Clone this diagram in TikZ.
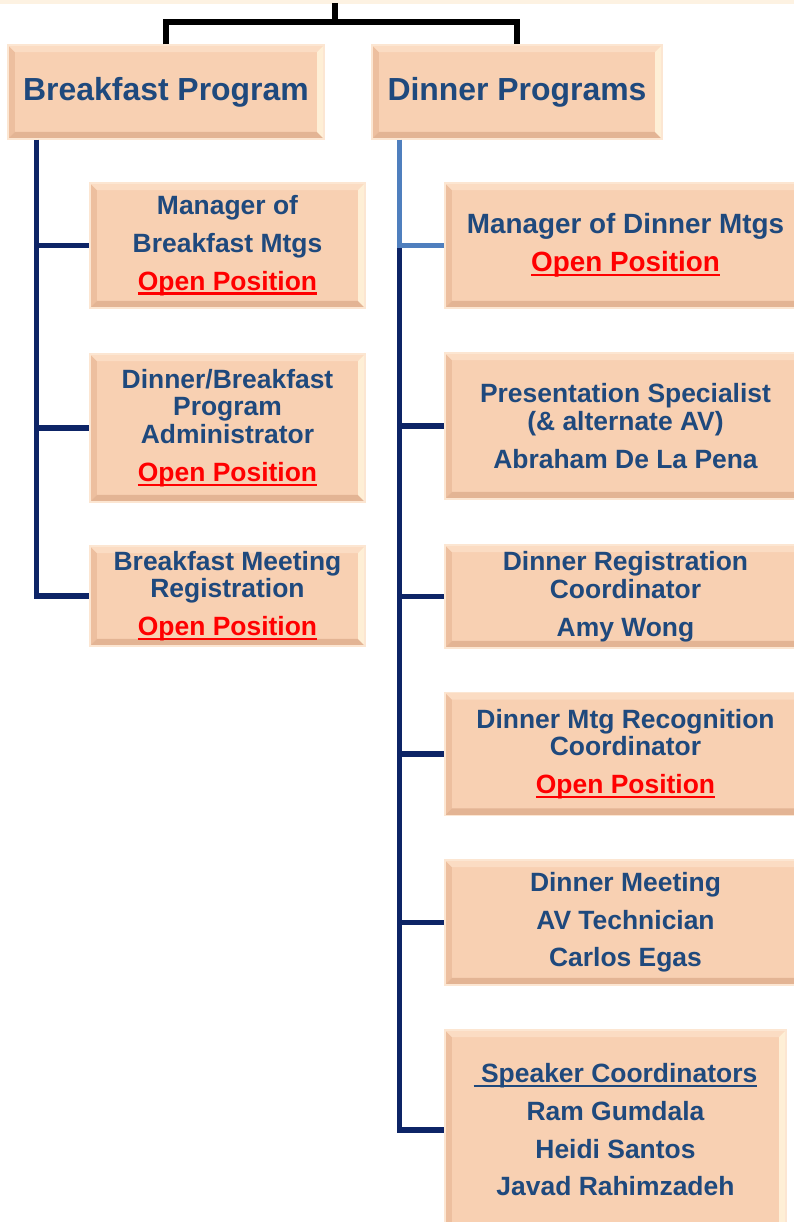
\documentclass[tikz,border=0pt]{standalone}
\usepackage{fontspec}
\setmainfont{Liberation Sans}
\usepackage{tikz}
\usetikzlibrary{calc,positioning}

\definecolor{boxfill}{HTML}{F8D0B2}
\definecolor{boxrim}{HTML}{FCE6D2}
\definecolor{bevtop}{HTML}{FBDCC3}
\definecolor{bevright}{HTML}{FEEFD6}
\definecolor{bevleft}{HTML}{EDBF9F}
\definecolor{bevbottom}{HTML}{E3B494}
\definecolor{textnavy}{HTML}{1F497D}
\definecolor{linenavy}{HTML}{0D2466}
\definecolor{lineblue}{HTML}{4F7FBE}
\definecolor{openred}{HTML}{FF0000}
\definecolor{stripcream}{HTML}{FDF2E2}

\newsavebox{\ulinebox}
\newcommand{\flatuline}[1]{\sbox{\ulinebox}{#1}\usebox{\ulinebox}\llap{\smash{\rule[-3.2pt]{\wd\ulinebox}{1.6pt}}}}
\newcommand{\openpos}{\textcolor{openred}{\flatuline{Open Position}}}

\tikzset{
	bevelbox/.style={draw=boxrim, line width=0.8pt, fill=boxfill, inner sep=0pt, align=center,
		text=textnavy, font=\bfseries\fontsize{18.8}{19.8}\selectfont,
		path picture={
			\fill[bevleft] (path picture bounding box.south west) -- (path picture bounding box.north west)
				-- ++(5pt,-5pt) -- ($(path picture bounding box.south west)+(5pt,5pt)$) -- cycle;
			\fill[bevbottom] (path picture bounding box.south west) -- (path picture bounding box.south east)
				-- ++(-5pt,5pt) -- ($(path picture bounding box.south west)+(5pt,5pt)$) -- cycle;
			\fill[bevtop] (path picture bounding box.north west) -- (path picture bounding box.north east)
				-- ++(-5pt,-5pt) -- ($(path picture bounding box.north west)+(5pt,-5pt)$) -- cycle;
			\fill[bevright] (path picture bounding box.north east) -- (path picture bounding box.south east)
				-- ++(-5pt,5pt) -- ($(path picture bounding box.north east)+(-5pt,-5pt)$) -- cycle;
		}},
	titlebox/.style={bevelbox, font=\bfseries\fontsize{22.7}{26}\selectfont},
	navyline/.style={draw=linenavy, line width=3.7pt},
	blueline/.style={draw=lineblue, line width=3pt},
	topline/.style={draw=black, line width=3.7pt}
}

\begin{document}
\begin{tikzpicture}[x=0.025cm, y=-0.025cm]
			%%%%% START %%%%%
			\useasboundingbox (0, 0) rectangle (794, 1222);
			
			\fill[stripcream] (0, 0) rectangle (794, 4);
			
			\node[titlebox, minimum width=7.9cm, minimum height=2.35cm] (bfast) at (166, 92) {Breakfast Program};
			\node[titlebox, minimum width=7.25cm, minimum height=2.35cm] (dinner) at (517, 92) {Dinner Programs};
			
			\coordinate (top) at (335, 3);
			\coordinate (split) at (335, 22);
			\draw[topline] (top) -- (split);
			\draw[topline] (bfast.north) |- (split) -| (dinner.north);
			
			% breakfast side
			\node[bevelbox, minimum width=6.875cm, minimum height=3.125cm] (bmgr) at (227.5, 245.5)
				{Manager of\\[7pt]Breakfast Mtgs\\[7pt]\openpos};
			\node[bevelbox, minimum width=6.875cm, minimum height=3.7cm] (badmin) at (227.5, 428)
				{Dinner/Breakfast\\Program\\Administrator\\[7pt]\openpos};
			\node[bevelbox, minimum width=6.875cm, minimum height=2.5cm] (breg) at (227.5, 596)
				{Breakfast Meeting\\Registration\\[7pt]\openpos};
			
			\coordinate (btrunk) at ([xshift=0.725cm]bfast.south west);
			\draw[navyline] (btrunk) |- (breg.west);
			\draw[navyline] (btrunk |- bmgr.west) -- (bmgr.west);
			\draw[navyline] (btrunk |- badmin.west) -- (badmin.west);
			
			% dinner side
			\node[bevelbox, minimum width=9.025cm, minimum height=3.125cm, font=\bfseries\fontsize{19.8}{19.8}\selectfont] (dmgr) at (625.5, 245.5)
				{Manager of Dinner Mtgs\\[7pt]\openpos};
			\node[bevelbox, minimum width=9.025cm, minimum height=3.65cm] (dpres) at (625.5, 426)
				{Presentation Specialist\\(\& alternate AV)\\[7pt]Abraham De La Pena};
			\node[bevelbox, minimum width=9.025cm, minimum height=2.575cm] (dreg) at (625.5, 596.5)
				{Dinner Registration\\Coordinator\\[7pt]Amy Wong};
			\node[bevelbox, minimum width=9.025cm, minimum height=3.075cm] (drecog) at (625.5, 754)
				{Dinner Mtg Recognition\\Coordinator\\[7pt]\openpos};
			\node[bevelbox, minimum width=9.025cm, minimum height=3.125cm] (dav) at (625.5, 922.5)
				{Dinner Meeting\\[7pt]AV Technician\\[7pt]Carlos Egas};
			\node[bevelbox, minimum width=8.525cm, minimum height=5cm] (dspk) at (615.5, 1130)
				{\flatuline{\ Speaker Coordinators}\\[7pt]Ram Gumdala\\[7pt]Heidi Santos\\[7pt]Javad Rahimzadeh};
			
			\coordinate (dtrunk) at ([xshift=0.7cm]dinner.south west);
			\draw[navyline] (dtrunk |- dmgr.west) |- (dspk.west);
			\draw[blueline] (dtrunk) |- (dmgr.west);
			\foreach \b in {dpres, dreg, drecog, dav}
				\draw[navyline] (dtrunk |- \b.west) -- (\b.west);
			
			%%%%% END %%%%%
\end{tikzpicture}
\end{document}
